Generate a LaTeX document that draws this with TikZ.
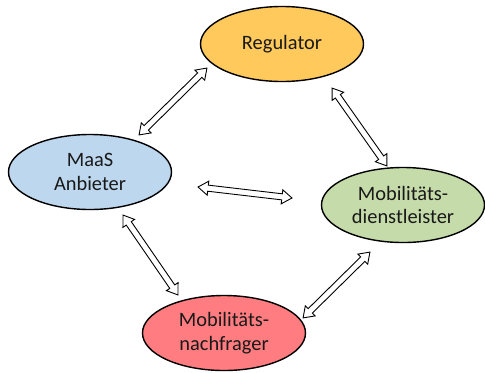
\documentclass[tikz,border=0pt]{standalone}
\usepackage{fontspec}
\setmainfont{Carlito}
\usetikzlibrary{shapes.geometric,shapes.arrows,calc}

\definecolor{regfill}{RGB}{255,201,92}
\definecolor{maasfill}{RGB}{189,215,238}
\definecolor{dlfill}{RGB}{197,219,170}
\definecolor{nffill}{RGB}{255,124,128}

\tikzset{
  actor/.style={ellipse, draw=black, line width=1.4bp, inner sep=0pt,
    align=center, text=black!90, minimum width=163bp, minimum height=75bp,
    font=\fontsize{20.5}{23.5}\selectfont},
  flow/.style={double arrow, draw=black, fill=white, line width=0.9bp,
    inner xsep=0pt, inner ysep=2.6bp, double arrow head extend=4bp,
    double arrow tip angle=70},
}

% hollow double arrow spanning two named points
\newcommand\twoway[2]{%
  \path let \p1=($(#2)-(#1)$), \n1={atan2(\y1,\x1)}, \n2={veclen(\x1,\y1)} in
    node[flow, rotate=\n1, minimum height=\n2] at ($(#1)!0.5!(#2)$) {};}

\begin{document}
\begin{tikzpicture}[x=1bp, y=-1bp]
  \useasboundingbox (0,0) rectangle (485,372);

  \node[actor, fill=regfill]  (reg)  at (282,44)  {Regulator};
  \node[actor, fill=maasfill] (maas) at (90,172)  {MaaS\\Anbieter};
  \node[actor, fill=dlfill]   (dl)   at (403,205) {Mobilitäts-\\dienstleister};
  \node[actor, fill=nffill]   (nf)   at (224,333) {Mobilitäts-\\nachfrager};

  % arrow ends
  \coordinate (a1) at (139,135); \coordinate (b1) at (207,68);
  \coordinate (a2) at (332,88);  \coordinate (b2) at (387,166);
  \coordinate (a3) at (198,187); \coordinate (b3) at (292,198);
  \coordinate (a4) at (123,215); \coordinate (b4) at (178,295);
  \coordinate (a5) at (303,318); \coordinate (b5) at (370,252);

  \twoway{a1}{b1}
  \twoway{a2}{b2}
  \twoway{a3}{b3}
  \twoway{a4}{b4}
  \twoway{a5}{b5}
\end{tikzpicture}
\end{document}
